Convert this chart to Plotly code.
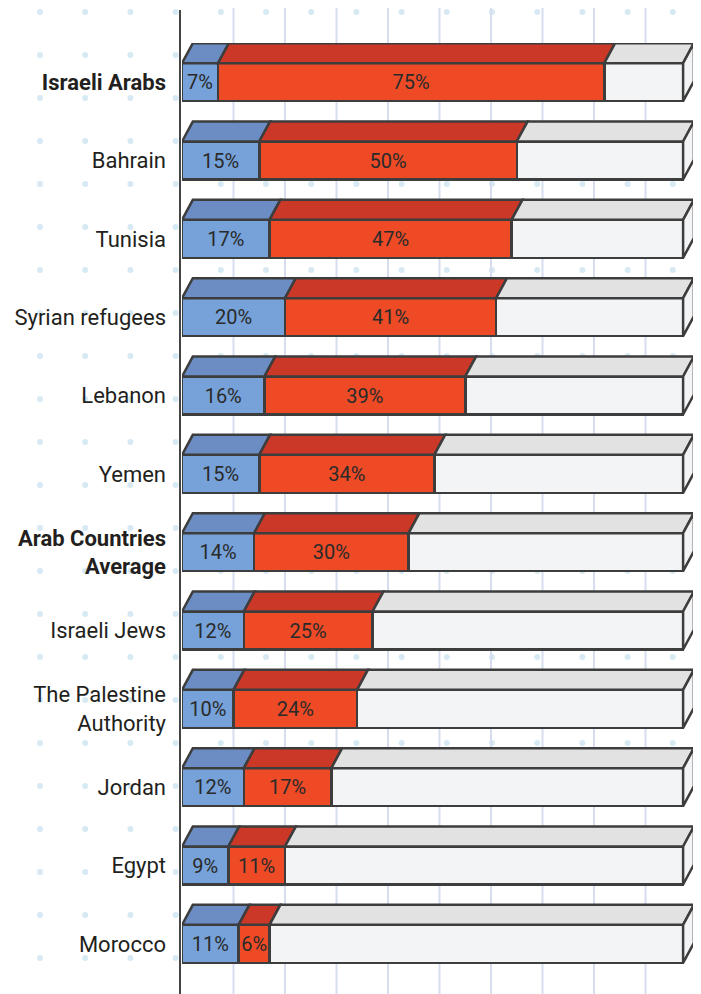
import plotly.graph_objects as go

categories = ["<b>Israeli Arabs</b>", "Bahrain", "Tunisia", "Syrian refugees", "Lebanon", "Yemen",
              "<b>Arab Countries<br>Average</b>", "Israeli Jews", "The Palestine<br>Authority",
              "Jordan", "Egypt", "Morocco"]
blue_vals = [7, 15, 17, 20, 16, 15, 14, 12, 10, 12, 9, 11]
red_vals = [75, 50, 47, 41, 39, 34, 30, 25, 24, 17, 11, 6]
BAR_END = 97.3  # front face of every bar ends here (grey remainder fills up to it)

grey_vals = [BAR_END - b - r for b, r in zip(blue_vals, red_vals)]
ypos = list(range(len(categories)))

FONT = "Roboto, Lato, sans-serif"
OUT = "#3d3d3d"
LW = 2.5
BW = 0.485           # bar (front face) thickness in category units
DX = 2.1             # depth offset in x (data units)
DY = 0.255           # depth offset in y (category units)

C_BLUE, C_BLUE_T = "#76a2d9", "#6b8dc3"
C_RED, C_RED_T = "#ee4a26", "#cc3828"
C_GREY, C_GREY_T = "#f3f4f6", "#e2e2e2"

fig = go.Figure()
for vals, col, txt in [(blue_vals, C_BLUE, True), (red_vals, C_RED, True), (grey_vals, C_GREY, False)]:
    fig.add_trace(go.Bar(
        y=ypos, x=vals, orientation="h", width=BW,
        marker=dict(color=col, line=dict(color=OUT, width=LW)),
        text=[f"{v}%" for v in vals] if txt else None,
        textposition="inside" if txt else "none",
        insidetextanchor="middle", textangle=0,
        textfont=dict(family=FONT, size=20, color="#2a2a2a"),
        hoverinfo="skip", showlegend=False,
    ))

shapes = []
# page body has an 8px margin; figure sized to fit the 701x994 window
OFF = 8
W, H = 701 - OFF, 994 - OFF
L, R, T, B = 182 - OFF, 4, 43 - OFF, 11
pw, ph = W - L - R, H - T - B
# dotted background (window pixel positions)
for j in range(23):
    py = 12 + 43 * j - OFF
    for i in range(15):
        px = 40 + 45.2 * i - OFF
        cx = (px - L) / pw
        cy = 1 - (py - T) / ph
        rx, ry = 3 / pw, 3 / ph
        shapes.append(dict(type="circle", xref="paper", yref="paper", layer="below",
                           x0=cx - rx, x1=cx + rx, y0=cy - ry, y1=cy + ry,
                           fillcolor="#d7eaf3", line=dict(width=0)))
# vertical grid lines
for g in range(10, 101, 10):
    shapes.append(dict(type="line", xref="x", yref="paper", layer="below",
                       x0=g, x1=g, y0=-0.02, y1=1.06,
                       line=dict(color="#d6ddef", width=2)))
# axis line
shapes.append(dict(type="line", xref="paper", yref="paper", layer="below",
                   x0=-2 / pw, x1=-2 / pw, y0=-0.02, y1=1 + (T - 2) / ph,
                   line=dict(color="#444444", width=2)))

# 3D top faces and right side faces
for k, (b, r) in enumerate(zip(blue_vals, red_vals)):
    top = k - BW / 2
    segs = [(0, b, C_BLUE_T), (b, b + r, C_RED_T), (b + r, BAR_END, C_GREY_T)]
    for x0, x1, col in segs:
        path = (f"M {x0},{top} L {x1},{top} L {x1 + DX},{top - DY} "
                f"L {x0 + DX},{top - DY} Z")
        shapes.append(dict(type="path", xref="x", yref="y", path=path,
                           fillcolor=col, line=dict(color=OUT, width=LW)))
    bot = k + BW / 2
    path = (f"M {BAR_END},{top} L {BAR_END + DX},{top - DY} L {BAR_END + DX},{bot - DY} "
            f"L {BAR_END},{bot} Z")
    shapes.append(dict(type="path", xref="x", yref="y", path=path,
                       fillcolor=C_GREY, line=dict(color=OUT, width=LW)))

fig.update_layout(
    barmode="stack",
    width=W, height=H,
    margin=dict(l=L, r=R, t=T, b=B, autoexpand=False),
    paper_bgcolor="white", plot_bgcolor="rgba(0,0,0,0)",
    shapes=shapes,
    uniformtext=dict(minsize=20, mode="show"),
    xaxis=dict(range=[0, 100], showgrid=False, zeroline=False, showticklabels=False,
               showline=False, fixedrange=True, automargin=False),
    yaxis=dict(range=[len(categories) - 0.5, -0.5], tickmode="array", tickvals=ypos,
               ticktext=categories, showgrid=False, zeroline=False, showline=False,
               ticks="", ticklabelstandoff=15, automargin=False,
               tickfont=dict(family=FONT, size=22, color="#231f20")),
    font=dict(family=FONT),
)

fig.write_html("out.html")
